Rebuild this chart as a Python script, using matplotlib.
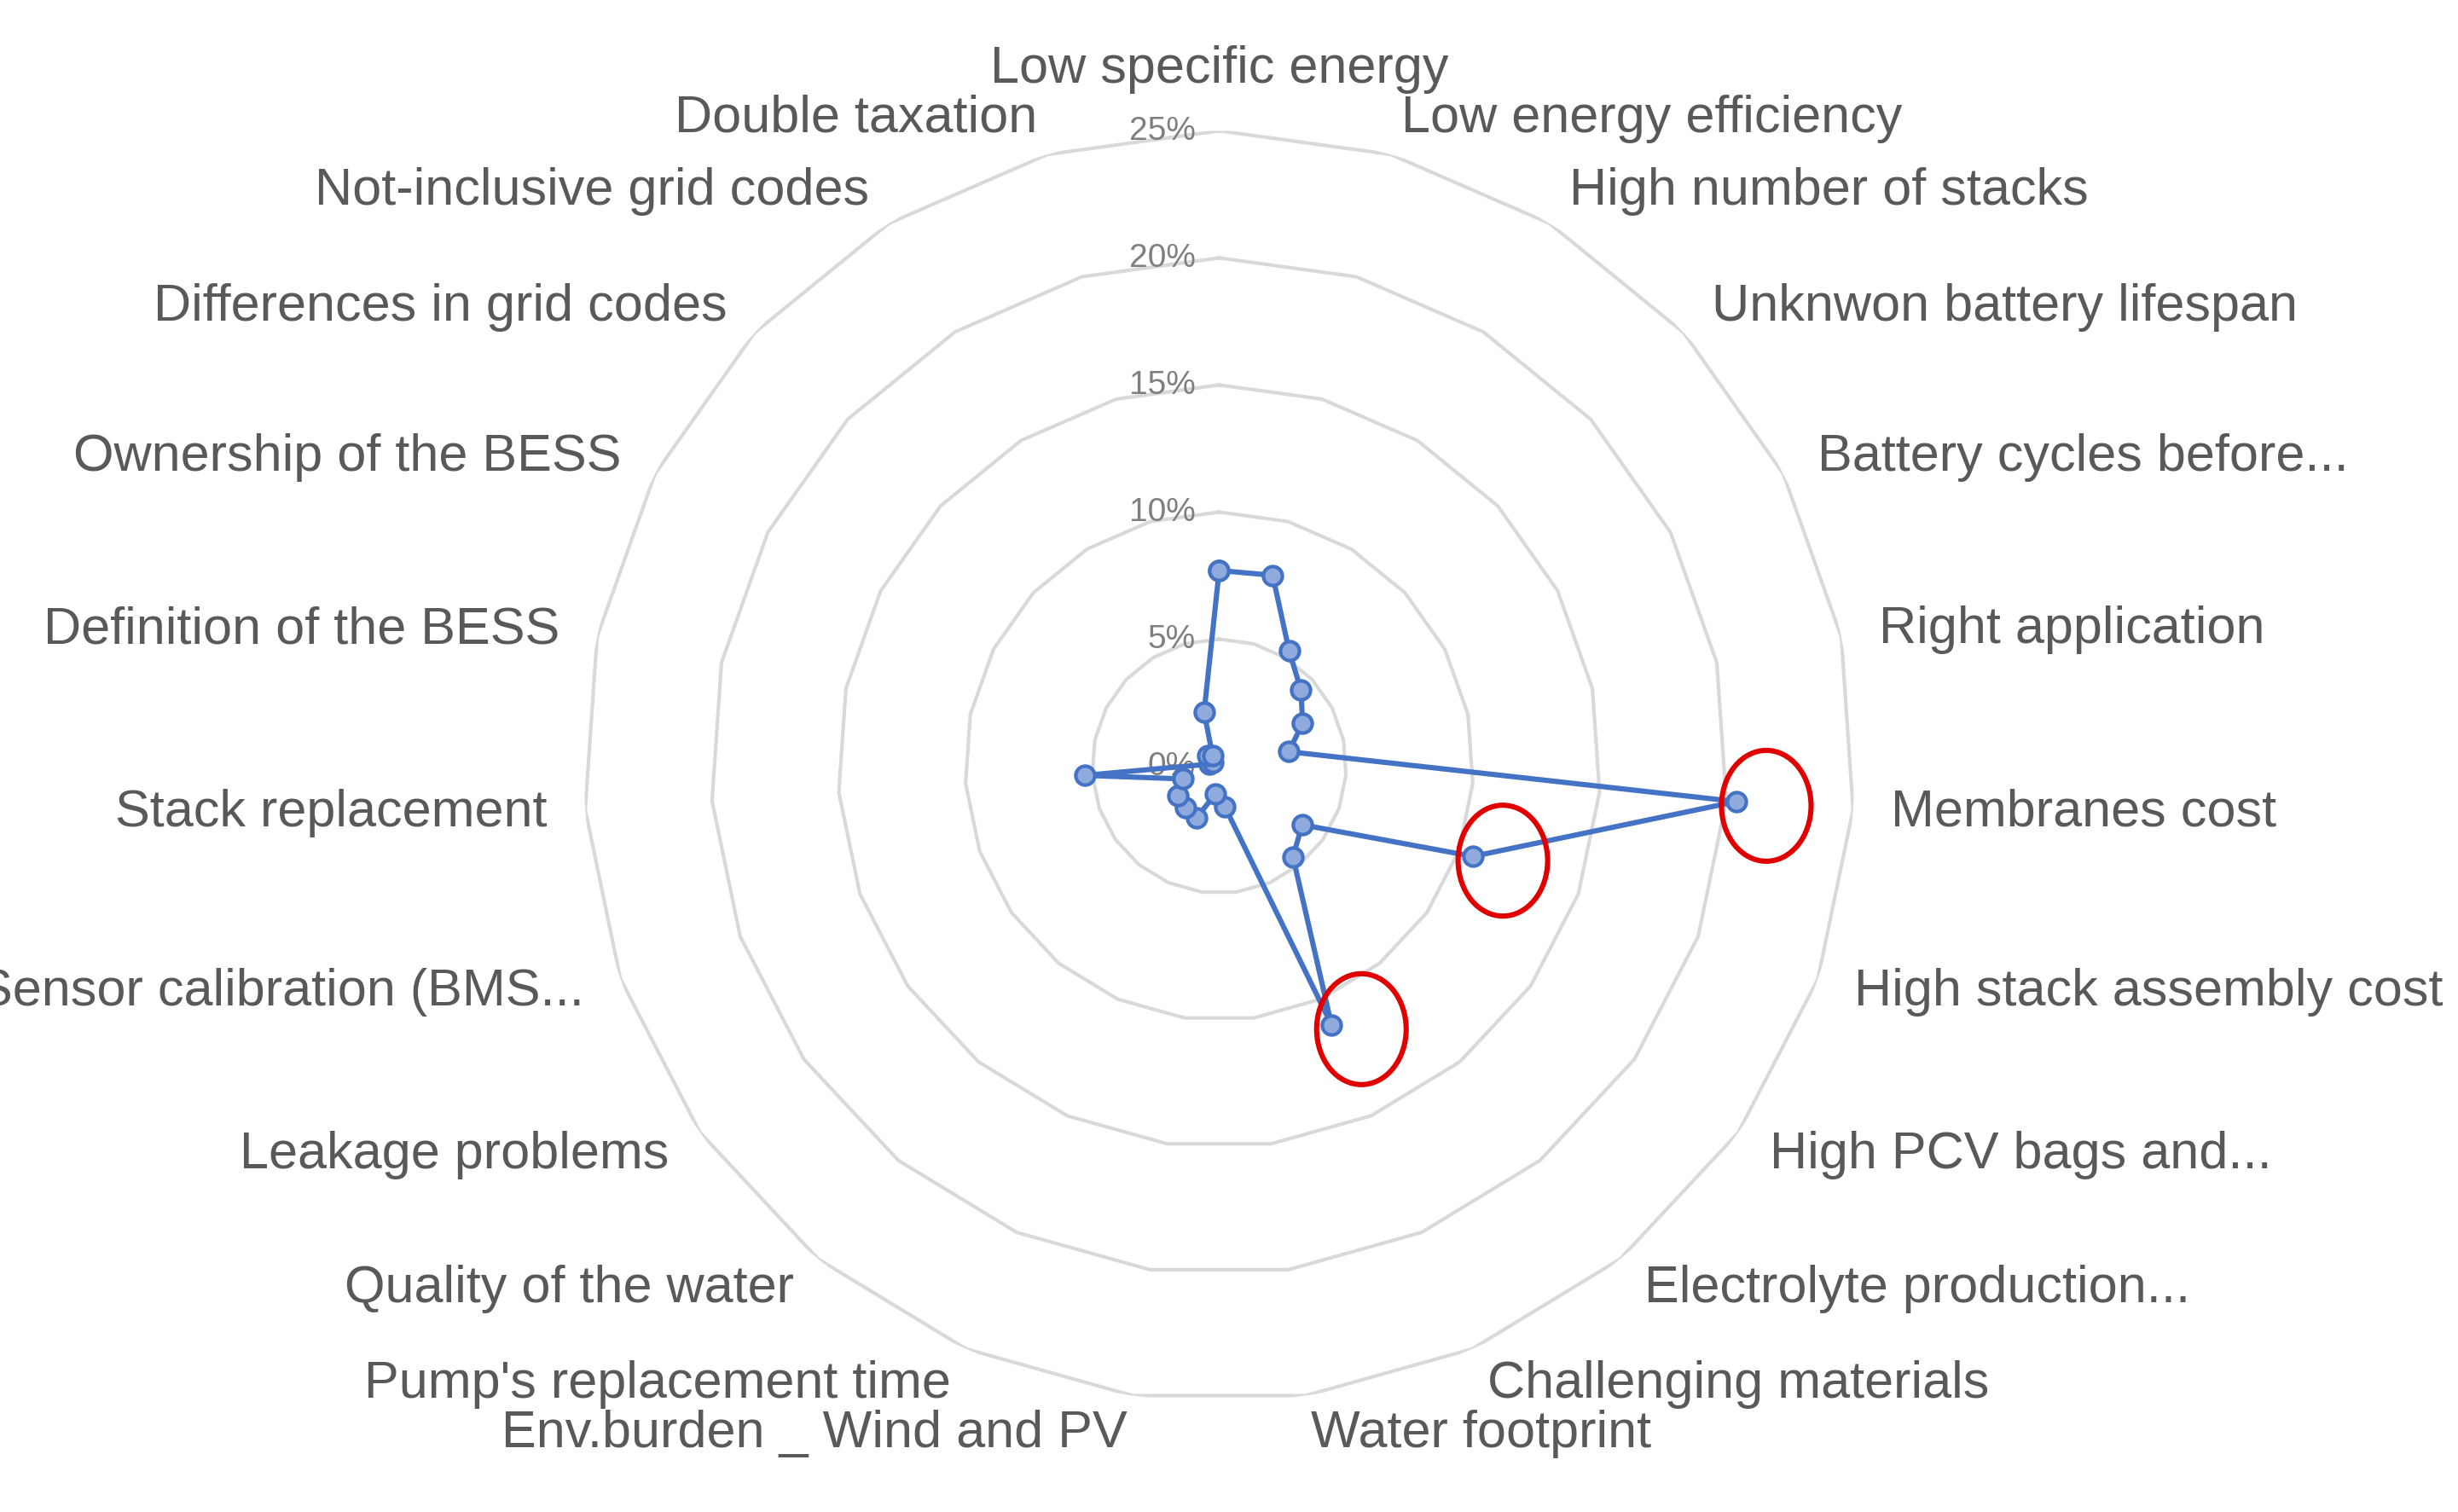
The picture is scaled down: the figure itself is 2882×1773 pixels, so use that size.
import matplotlib.pyplot as plt
import numpy as np
from matplotlib.patches import Ellipse

categories = ["Low specific energy", "Low energy efficiency", "High number of stacks",
              "Unknwon battery lifespan", "Battery cycles before...", "Right application",
              "Membranes cost", "High stack assembly cost", "High PCV bags and...",
              "Electrolyte production...", "Challenging materials", "Water footprint",
              "Env.burden _ Wind and PV", "Pump's replacement time", "Quality of the water",
              "Leakage problems", "Sensor calibration (BMS...", "Stack replacement",
              "Definition of the BESS", "Ownership of the BESS", "Differences in grid codes",
              "Not-inclusive grid codes", "Double taxation"]
values = [7.7, 7.8, 5.3, 4.4, 3.7, 2.8, 20.4, 10.6, 4.0, 4.6, 11.1, 1.6,
          1.1, 2.2, 2.1, 2.0, 1.5, 5.3, 0.4, 0.3, 0.6, 0.5, 2.2]
rings = [5, 10, 15, 20, 25]
ring_labels = ["5%", "10%", "15%", "20%", "25%"]
highlight = [6, 7, 10]

plt.rcParams['font.family'] = ['Liberation Sans', 'DejaVu Sans']
grey = '#595959'
n = len(categories)
theta = np.arange(n) * 2 * np.pi / n

fig = plt.figure(figsize=(14.41, 8.87), dpi=200)
ax = fig.add_axes([0.2375, 0.073, 0.517, 0.84], projection='polar')
ax.set_theta_zero_location('N')
ax.set_theta_direction(-1)
ax.set_ylim(0, 25)
ax.grid(False)
ax.spines['polar'].set_visible(False)
ax.set_xticks([])
ax.set_yticks([])

tc = np.append(theta, theta[0])
for r in rings:
    ax.plot(tc, [r] * len(tc), color='#d9d9d9', lw=1.5, zorder=1)
for r, lab in zip([0] + rings, ["0%"] + ring_labels):
    ax.annotate(lab, (0, r), xytext=(-10, 0), textcoords='offset points',
                ha='right', va='center', fontsize=14, color='#7f7f7f', zorder=2)

for i, (t, lab) in enumerate(zip(theta, categories)):
    s = np.sin(t)
    ha = 'center' if abs(s) < 0.05 else ('left' if s > 0 else 'right')
    va = 'bottom' if i == 0 else 'center'
    ax.text(t, 26.5, lab, ha=ha, va=va, fontsize=22, color=grey)

vc = values + [values[0]]
ax.plot(tc, vc, color='#4472C4', lw=2.2, marker='o', markersize=8,
        markerfacecolor='#8FAADC', markeredgecolor='#4472C4', markeredgewidth=1.5, zorder=3)

fig.canvas.draw()
for i in highlight:
    x, y = ax.transData.transform((theta[i], values[i]))
    fig.patches.append(Ellipse((x + 35, y - 5), 105, 130, fill=False, edgecolor='#e00000',
                               lw=2.2, transform=None, figure=fig))

fig.savefig('out.png', dpi=200)
